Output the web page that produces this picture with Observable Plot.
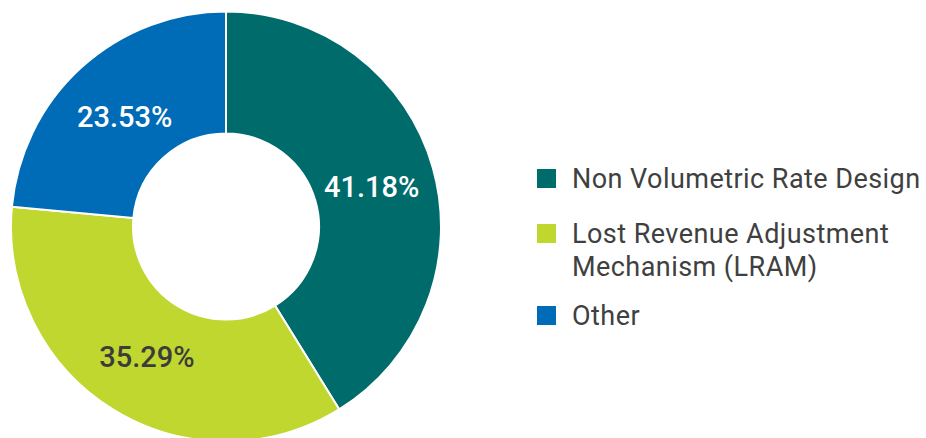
<!DOCTYPE html>
<html>
<head>
<meta charset="utf-8">
<script src="https://cdn.jsdelivr.net/npm/d3@7"></script>
<script src="https://cdn.jsdelivr.net/npm/@observablehq/plot@0.6"></script>
<style>
  html, body { margin: 0; padding: 0; background: #fff; }
  #wrap { position: relative; width: 926px; height: 438px; overflow: hidden; font-family: Roboto, "Open Sans", sans-serif; }
  .item { position: absolute; left: 537px; padding-left: 35px; color: #404040; font-size: 27px; letter-spacing: 0.45px; line-height: 33px; white-space: nowrap; }
  .sw { position: absolute; left: 0; top: 6px; width: 19px; height: 19px; }
</style>
</head>
<body>
<div id="wrap"></div>
<script>
const categories = ["Non Volumetric Rate Design", "Lost Revenue Adjustment Mechanism (LRAM)", "Other"];
const values = [41.18, 35.29, 23.53];
const labels = ["41.18%", "35.29%", "23.53%"];
const colors = ["#006b6b", "#c0d72f", "#006bb6"];
const labelColors = ["#ffffff", "#3c3c3c", "#ffffff"];
const legendLines = [["Non Volumetric Rate Design"], ["Lost Revenue Adjustment", "Mechanism (LRAM)"], ["Other"]];
const innerRatio = 93 / 215;
const labelRatio = 151 / 215;

const data = categories.map((c, i) => ({category: c, value: values[i], label: labels[i], color: colors[i], labelColor: labelColors[i]}));
const pie = d3.pie().sort(null).value(d => d.value);
const arcs = pie(data);
const labelArc = d3.arc().innerRadius(labelRatio).outerRadius(labelRatio);
const labelData = arcs.map(a => {
  const [cx, cy] = labelArc.centroid(a);
  return {x: cx, y: -cy, label: a.data.label, color: a.data.labelColor};
});

function donutMark(index, scales) {
  const sx = scales.x, sy = scales.y;
  const cx = sx(0), cy = sy(0);
  const R = sx(1) - sx(0);
  const arc = d3.arc().innerRadius(R * innerRatio).outerRadius(R);
  const g = d3.create("svg:g").attr("transform", `translate(${cx},${cy})`);
  g.selectAll("path").data(arcs).join("path")
    .attr("d", arc)
    .attr("fill", d => d.data.color)
    .attr("stroke", "#fff")
    .attr("stroke-width", 2)
    .attr("stroke-linejoin", "round");
  return g.node();
}

const chart = Plot.plot({
  width: 926,
  height: 438,
  margin: 0,
  style: {background: "transparent", fontFamily: "Roboto, 'Open Sans', sans-serif"},
  x: {domain: [-1, 1], range: [226 - 215, 226 + 215], axis: null},
  y: {domain: [-1, 1], range: [226.5 + 215, 226.5 - 215], axis: null},
  marks: [
    donutMark,
    Plot.text(labelData, {
      x: "x", y: "y", text: "label", fill: "color",
      fontSize: 29, fontWeight: 500, textAnchor: "middle", dy: 2
    })
  ]
});

const wrap = document.getElementById("wrap");
wrap.appendChild(chart);

const tops = [163, 218, 300];
categories.forEach((c, i) => {
  const item = document.createElement("div");
  item.className = "item";
  item.style.top = tops[i] + "px";
  const sw = document.createElement("span");
  sw.className = "sw";
  sw.style.background = colors[i];
  item.appendChild(sw);
  legendLines[i].forEach((t, j) => {
    if (j) item.appendChild(document.createElement("br"));
    item.appendChild(document.createTextNode(t));
  });
  wrap.appendChild(item);
});
</script>
</body>
</html>
